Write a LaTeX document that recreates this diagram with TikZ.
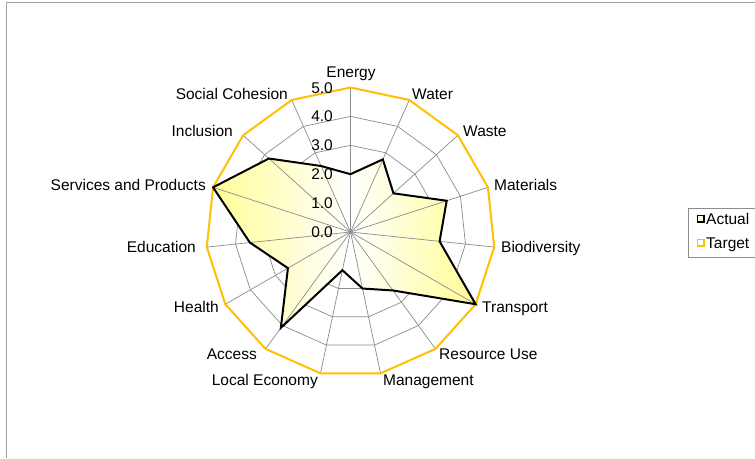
\documentclass[tikz,border=0pt]{standalone}
\usepackage{fontspec}
\setmainfont{Liberation Sans}
\definecolor{gridgray}{RGB}{140,140,140}
\definecolor{targety}{RGB}{255,192,0}
\definecolor{filly}{RGB}{255,253,145}
\definecolor{framegray}{RGB}{160,160,160}
\begin{document}
\begin{tikzpicture}[x=1pt,y=-1pt,
  gridline/.style={draw=gridgray,line width=0.7pt},
  targetline/.style={draw=targety,line width=2pt,line join=miter},
  actualline/.style={draw=black,line width=2pt,line join=miter},
  lbl/.style={inner sep=0pt,font=\fontsize{15.5}{18}\selectfont},
  scalelbl/.style={lbl,anchor=base east},
  ]
\useasboundingbox (0,0) rectangle (755,458);
\fill[white] (0,0) rectangle (755,458);
% frame
\draw[framegray,line width=1pt] (6,458) -- (6,2) -- (755,2);
% coordinates
\def\cx{350.5}\def\cy{232}\def\u{28.9}
\foreach \k in {0,...,14}{
  \foreach \v in {1,...,5}{
    \coordinate (g-\k-\v) at ({\cx+\u*\v*sin(24*\k)},{\cy-\u*\v*cos(24*\k)});
  }
}
\coordinate (c) at (\cx,\cy);
% actual values
\foreach \k/\v in {0/2.0,1/2.75,2/2.0,3/3.5,4/3.1,5/5.0,6/2.5,7/2.0,8/1.35,9/4.1,10/2.5,11/3.5,12/5.0,13/3.8,14/2.5}{
  \coordinate (a-\k) at ({\cx+\u*\v*sin(24*\k)},{\cy-\u*\v*cos(24*\k)});
}
% grid rings (hidden under the fill)
\foreach \v in {1,...,4}{
  \draw[gridline] (g-0-\v) \foreach \k in {1,...,14}{ -- (g-\k-\v) } -- cycle;
}
% fill of actual
\begin{scope}
  \clip (a-0) -- (a-1) -- (a-2) -- (a-3) -- (a-4) -- (a-5) -- (a-6) -- (a-7) -- (a-8) -- (a-9) -- (a-10) -- (a-11) -- (a-12) -- (a-13) -- (a-14) -- cycle;
  \shade[left color=filly,right color=white] (205,80) rectangle (\cx,390);
  \shade[left color=white,right color=filly] (\cx,80) rectangle (480,390);
\end{scope}
% spokes
\foreach \k in {0,...,14}{
  \draw[gridline] (c) -- (g-\k-5);
}
% target
\draw[targetline] (g-0-5) \foreach \k in {1,...,14}{ -- (g-\k-5) } -- cycle;
% actual outline
\draw[actualline] (a-0) -- (a-1) -- (a-2) -- (a-3) -- (a-4) -- (a-5) -- (a-6) -- (a-7) -- (a-8) -- (a-9) -- (a-10) -- (a-11) -- (a-12) -- (a-13) -- (a-14) -- cycle;
% scale labels
\foreach \v in {0,...,5}{
  \node[scalelbl] (s\v) at (333,{\cy-\u*\v+5.5}) {\v.0};
}
% axis labels
\node[lbl,anchor=base] (lEnergy) at (351,77.5) {Energy};
\node[lbl,anchor=base west] (lWater) at (412,99.5) {Water};
\node[lbl,anchor=base west] (lWaste) at (463,136.5) {Waste};
\node[lbl,anchor=base west] (lMaterials) at (494,190.5) {Materials};
\node[lbl,anchor=base west] (lBio) at (501,252.5) {Biodiversity};
\node[lbl,anchor=base west] (lTransport) at (482,312.5) {Transport};
\node[lbl,anchor=base west] (lResource) at (439,359.5) {Resource Use};
\node[lbl,anchor=base west] (lMgmt) at (383,385.5) {Management};
\node[lbl,anchor=base east] (lLocal) at (318,385.5) {Local Economy};
\node[lbl,anchor=base east] (lAccess) at (257,359.5) {Access};
\node[lbl,anchor=base east] (lHealth) at (219,312.5) {Health};
\node[lbl,anchor=base east] (lEducation) at (196,252.5) {Education};
\node[lbl,anchor=base east] (lServices) at (206,190.5) {Services and Products};
\node[lbl,anchor=base east] (lInclusion) at (233,136.5) {Inclusion};
\node[lbl,anchor=base east] (lSocial) at (288,99.5) {Social Cohesion};
% legend
\draw[gridgray,line width=0.8pt] (760,208) -- (688,208) -- (688,257) -- (760,257);
\draw[black,line width=1.5pt,fill=filly!40] (697.5,215.5) rectangle (704,222);
\node[lbl,anchor=base west] (legA) at (706,224.5) {Actual};
\draw[targety,line width=1.5pt,fill=white] (697.5,239.5) rectangle (704,246);
\node[lbl,anchor=base west] (legT) at (706,248.5) {Target};
\end{tikzpicture}
\end{document}
